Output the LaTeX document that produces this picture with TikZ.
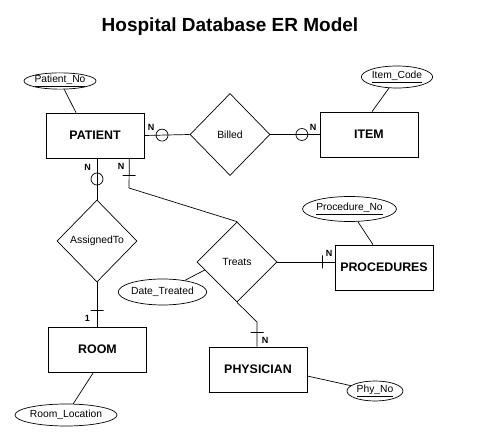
\documentclass[tikz,border=0pt]{standalone}
\usepackage{fontspec}
\setmainfont{Liberation Sans}
\usetikzlibrary{shapes.geometric}

\tikzset{
    entity/.style={draw, rectangle, minimum width=98, minimum height=45, inner sep=0,
        font=\fontsize{12.4}{14}\selectfont\bfseries},
    relation/.style={draw, diamond, minimum width=80, minimum height=82, inner sep=0,
        font=\fontsize{10.4}{12}\selectfont},
    attrib/.style={draw, ellipse, inner sep=0, font=\fontsize{10.3}{12}\selectfont},
    optcirc/.style={draw, circle, minimum size=12, inner sep=0},
    hbar/.style={draw, rectangle, minimum width=13, minimum height=0, inner sep=0},
    vbar/.style={draw, rectangle, minimum width=0, minimum height=13, inner sep=0},
    card/.style={inner sep=0, font=\fontsize{9}{10}\selectfont\bfseries}
}

\begin{document}
\begin{tikzpicture}[x=1pt, y=-1pt, line width=0.7pt]

            \fill [white] (0,0) rectangle (477,446);
            \useasboundingbox (0,0) rectangle (477,446);

            \node (title) at (230,27) {\fontsize{19}{22}\selectfont\bfseries Hospital Database ER Model};

            % entities
            \node [entity] (patient) at (95,135.5) {PATIENT};
            \node [entity] (item) at (369,134.5) {ITEM};
            \node [entity] (room) at (97.5,349.5) {ROOM};
            \node [entity] (procs) at (384,267.5) {PROCEDURES};
            \node [entity] (phys) at (258,369.5) {PHYSICIAN};

            % relationships
            \node [relation] (billed) at (230,134.5) {Billed};
            \node [relation] (assigned) at (97,241) {AssignedTo};
            \node [relation, minimum height=80] (treats) at (237,262) {Treats};

            % attributes
            \node [attrib, minimum width=66, minimum height=14] (pno) at (60,81) {\underline{Patient\_No}};
            \node [attrib, minimum width=70, minimum height=22] (icode) at (397,77) {\underline{Item\_Code}};
            \node [attrib, minimum width=87, minimum height=25] (procno) at (349.5,209) {\underline{Procedure\_No}};
            \node [attrib, minimum width=79, minimum height=26] (dtreat) at (162.5,292) {Date\_Treated};
            \node [attrib, minimum width=94, minimum height=22] (rloc) at (66,415) {Room\_Location};
            \node [attrib, minimum width=56, minimum height=20] (phyno) at (375,391) {\underline{Phy\_No}};

            \coordinate (ptbend) at (129,188);
            \coordinate (phbend) at (257,322);

            % connectors
            \draw (patient.east) -- node [pos=0.39, optcirc] (c1) {} (billed.west);
            \draw (billed.east) -- node [pos=0.64, optcirc] (c2) {} (item.west);
            \draw (patient.south -| assigned.north) -- node [pos=0.5, optcirc] (c3) {} (assigned.north);
            \draw ([xshift=-15]patient.south east) -- node [pos=0.57, hbar] (b1) {} (ptbend) -- (treats.north);
            \draw (assigned.south) -- node [pos=0.64, hbar] (b2) {} (assigned.south |- room.north);
            \draw (treats.east) -- node [pos=0.78, vbar] (b3) {} (treats.east -| procs.west);
            \draw (treats.south) -- (phbend) -- node [pos=0.44, hbar] (b4) {} (phbend |- phys.north);

            \draw (pno) -- ([xshift=-19]patient.north);
            \draw (icode) -- ([xshift=3]item.north);
            \draw (procno) -- ([xshift=-11]procs.north);
            \draw (dtreat) -- (treats.194);
            \draw ([xshift=-4]room.south) -- (rloc);
            \draw ([yshift=-6.5]phys.east) -- (phyno);

            % cardinalities
            \node [card] (n1) at (151,127) {N};
            \node [card] (n2) at (313,127) {N};
            \node [card] (n3) at (87.5,167) {N};
            \node [card] (n4) at (121,166) {N};
            \node [card] (one) at (87.5,318) {1};
            \node [card] (n5) at (329,253) {N};
            \node [card] (n6) at (265,340) {N};

        \end{tikzpicture}
\end{document}
